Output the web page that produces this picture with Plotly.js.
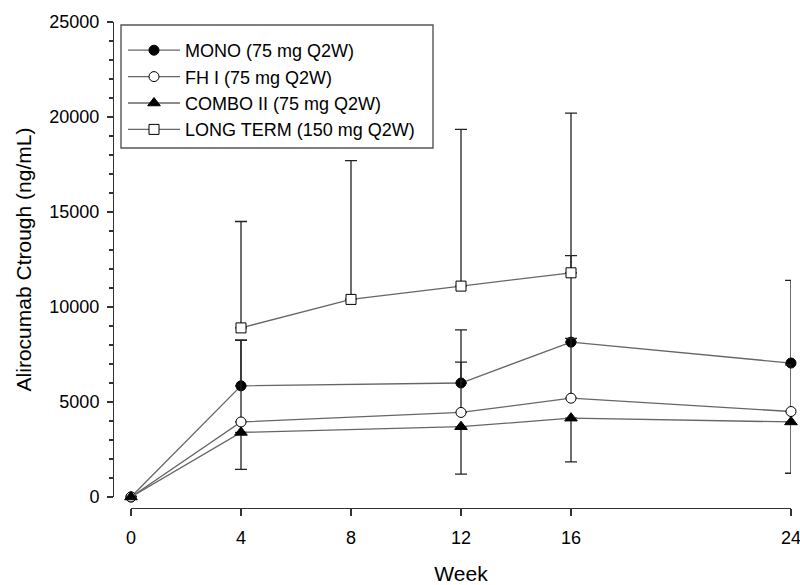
<!DOCTYPE html>
<html>
<head>
<meta charset="utf-8">
<script src="https://cdn.plot.ly/plotly-3.0.1.min.js"></script>
<style>html,body{margin:0;padding:0;background:#fff;}#chart{width:800px;height:585px;}</style>
</head>
<body>
<div id="chart"></div>
<script>
// ---- data ----
const weeksShort = [0, 4, 12, 16, 24];
const weeksLong = [4, 8, 12, 16];
const xTicks = [0, 4, 8, 12, 16, 24];

const monoName = "MONO (75 mg Q2W)";
const monoMean = [0, 5850, 6000, 8150, 7050];
const monoSDUp = [0, 2400, 2800, 4550, 4350];

const fhName = "FH I (75 mg Q2W)";
const fhMean = [0, 3950, 4450, 5200, 4500];
const fhSDUp = [0, 4300, 2650, 3150, 2450];

const comboName = "COMBO II (75 mg Q2W)";
const comboMean = [0, 3400, 3700, 4150, 3950];
const comboSDDown = [0, 1950, 2500, 2300, 2700];

const longName = "LONG TERM (150 mg Q2W)";
const longMean = [8900, 10400, 11100, 11800];
const longSDUp = [5600, 7300, 8250, 8400];

const zeros = a => a.map(() => 0);

const FONT = "Arial, 'Liberation Sans', sans-serif";
const lineStyle = {color: "#666666", width: 1.3};
const errStyle = {color: "#222222", thickness: 1.3, width: 6};

function upErr(arr) {
  return Object.assign({type: "data", symmetric: false, array: arr, arrayminus: zeros(arr), visible: true}, errStyle);
}
function downErr(arr) {
  return Object.assign({type: "data", symmetric: false, array: zeros(arr), arrayminus: arr, visible: true}, errStyle);
}

const traces = [
  {x: weeksShort, y: monoMean, name: monoName, mode: "lines+markers", cliponaxis: false,
   line: lineStyle, marker: {symbol: "circle", size: 10, color: "#000", line: {color: "#000", width: 1}},
   error_y: upErr(monoSDUp), legendgroup: "a"},
  {x: weeksShort, y: fhMean, name: fhName, mode: "lines+markers", cliponaxis: false,
   line: lineStyle, marker: {symbol: "circle", size: 10, color: "#fff", line: {color: "#000", width: 1}},
   error_y: upErr(fhSDUp), legendgroup: "b"},
  {x: weeksShort, y: comboMean, name: comboName, mode: "lines+markers", cliponaxis: false,
   line: lineStyle, marker: {symbol: "triangle-up", size: 11, color: "#000", line: {color: "#000", width: 1}},
   error_y: downErr(comboSDDown), legendgroup: "c"},
  {x: weeksLong, y: longMean, name: longName, mode: "lines+markers", cliponaxis: false,
   line: lineStyle, marker: {symbol: "square", size: 10, color: "#fff", line: {color: "#000", width: 1}},
   error_y: upErr(longSDUp), legendgroup: "d"}
];

// paper area: x 113..797, y 22..508
const L = 113, R = 797, T = 22, B = 508;
const W = R - L, H = B - T;
const px = v => (v - L) / W;          // container x -> paper fraction
const py = v => (B - v) / H;          // container y -> paper fraction

const layout = {
  width: 800, height: 585,
  margin: {l: L, r: 800 - R, t: T, b: 585 - B, pad: 0, autoexpand: false},
  paper_bgcolor: "#fff", plot_bgcolor: "rgba(0,0,0,0)",
  font: {family: FONT, size: 18, color: "#000"},
  showlegend: true,
  legend: {
    x: px(123), y: py(32), xanchor: "left", yanchor: "top",
    borderwidth: 0, bgcolor: "rgba(0,0,0,0)",
    font: {family: FONT, size: 18, color: "#000"},
    traceorder: "grouped", tracegroupgap: 0,
    itemwidth: 52
  },
  shapes: [
    {type: "rect", xref: "paper", yref: "paper", layer: "above",
     x0: px(121), x1: px(433), y0: py(148), y1: py(25),
     line: {color: "#555", width: 1.4}, fillcolor: "rgba(0,0,0,0)"}
  ],
  xaxis: {
    domain: [px(131), px(791)],
    anchor: "free", position: 0, automargin: true,
    range: [0, 24], tickvals: xTicks, ticktext: xTicks.map(String),
    showline: true, linecolor: "#333", linewidth: 1.2,
    ticks: "outside", ticklen: 7, tickcolor: "#333", tickwidth: 1.2,
    showgrid: false, zeroline: false, ticklabeloverflow: "allow",
    tickfont: {family: FONT, size: 18, color: "#000"},
    ticklabelstandoff: 6,
    title: {text: "Week", font: {family: FONT, size: 21, color: "#000"}, standoff: 24}
  },
  yaxis: {
    domain: [py(497), 1],
    anchor: "free", position: 0, automargin: false,
    range: [0, 25000], dtick: 5000, tick0: 0, tickformat: "d",
    showline: true, linecolor: "#333", linewidth: 1.2,
    ticks: "outside", ticklen: 6, tickcolor: "#333", tickwidth: 1.2,
    minor: {ticks: "outside", dtick: 1000, ticklen: 4, tickcolor: "#333", tickwidth: 1.2},
    showgrid: false, zeroline: false,
    tickfont: {family: FONT, size: 18, color: "#000"},
    ticklabelstandoff: 4,
    title: {text: "Alirocumab Ctrough (ng/mL)", font: {family: FONT, size: 21, color: "#000"}, standoff: 10}
  }
};

Plotly.newPlot("chart", traces, layout, {staticPlot: true, displayModeBar: false});
</script>
</body>
</html>
